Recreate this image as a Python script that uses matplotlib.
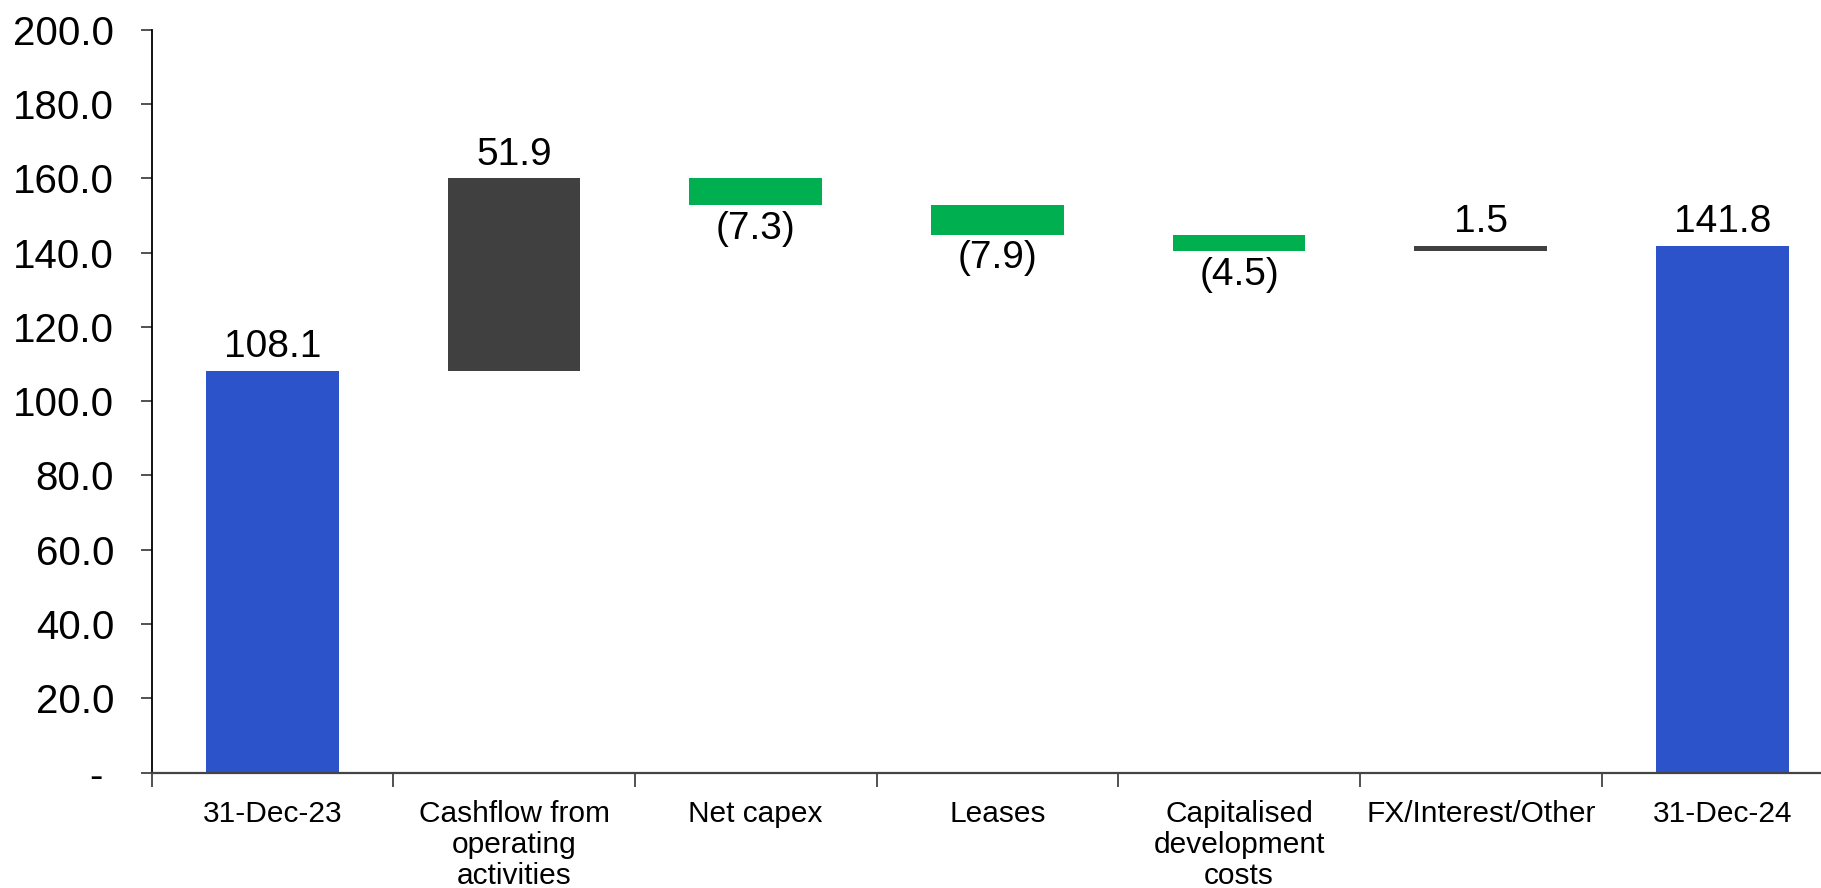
import matplotlib.pyplot as plt
import numpy as np

plt.rcParams['font.family'] = ['Liberation Sans', 'DejaVu Sans']

categories = ['31-Dec-23', 'Cashflow from\noperating\nactivities', 'Net capex', 'Leases',
              'Capitalised\ndevelopment\ncosts', 'FX/Interest/Other', '31-Dec-24']
changes = [108.1, 51.9, -7.3, -7.9, -4.5, 1.5, 141.8]
kinds = ['total', 'step', 'step', 'step', 'step', 'step', 'total']

blue = '#2D53CA'
grey = '#404040'
green = '#00B050'

# waterfall bottoms / heights
bottoms = []
heights = []
colors = []
running = 0.0
for val, kind in zip(changes, kinds):
    if kind == 'total':
        bottoms.append(0.0)
        heights.append(val)
        colors.append(blue)
        running = val
    else:
        if val >= 0:
            bottoms.append(running)
            colors.append(grey)
        else:
            bottoms.append(running + val)
            colors.append(green)
        heights.append(abs(val))
        running += val

fig = plt.figure(figsize=(18.21, 8.88), dpi=100)
ax = fig.add_axes([0.0832, 0.130, 0.929, 0.8366])

x = np.arange(len(categories))
ax.bar(x, heights, bottom=bottoms, width=0.55, color=colors, zorder=2)

for xi, val, kind, b, h in zip(x, changes, kinds, bottoms, heights):
    if val >= 0:
        ax.annotate(f'{val:.1f}', (xi, b + h), xytext=(0, 4), textcoords='offset points',
                    ha='center', va='bottom', fontsize=28)
    else:
        ax.annotate(f'({abs(val):.1f})', (xi, b), xytext=(0, -4), textcoords='offset points',
                    ha='center', va='top', fontsize=28)

ax.set_xlim(-0.5, len(categories) - 0.5)
ax.set_ylim(0, 200)
yt = np.arange(0, 201, 20)
ax.set_yticks(yt)
ax.set_yticklabels(['- ' if v == 0 else f'{v:.1f}' for v in yt])
ax.tick_params(axis='y', labelsize=29, length=8, width=1.2, pad=19, color='#333333')

ax.set_xticks(x)
ax.set_xticklabels(categories, fontsize=21.5, linespacing=1.12)
ax.set_xticks(np.arange(len(categories) + 1) - 0.5, minor=True)
ax.tick_params(axis='x', which='major', length=0, pad=20)
ax.tick_params(axis='x', which='minor', length=10, width=1.2, color='#333333')

for s in ['top', 'right']:
    ax.spines[s].set_visible(False)
ax.spines['left'].set_linewidth(1.3)
ax.spines['bottom'].set_linewidth(1.6)
ax.spines['bottom'].set_color('#444444')

fig.savefig('out.png', dpi=100)
